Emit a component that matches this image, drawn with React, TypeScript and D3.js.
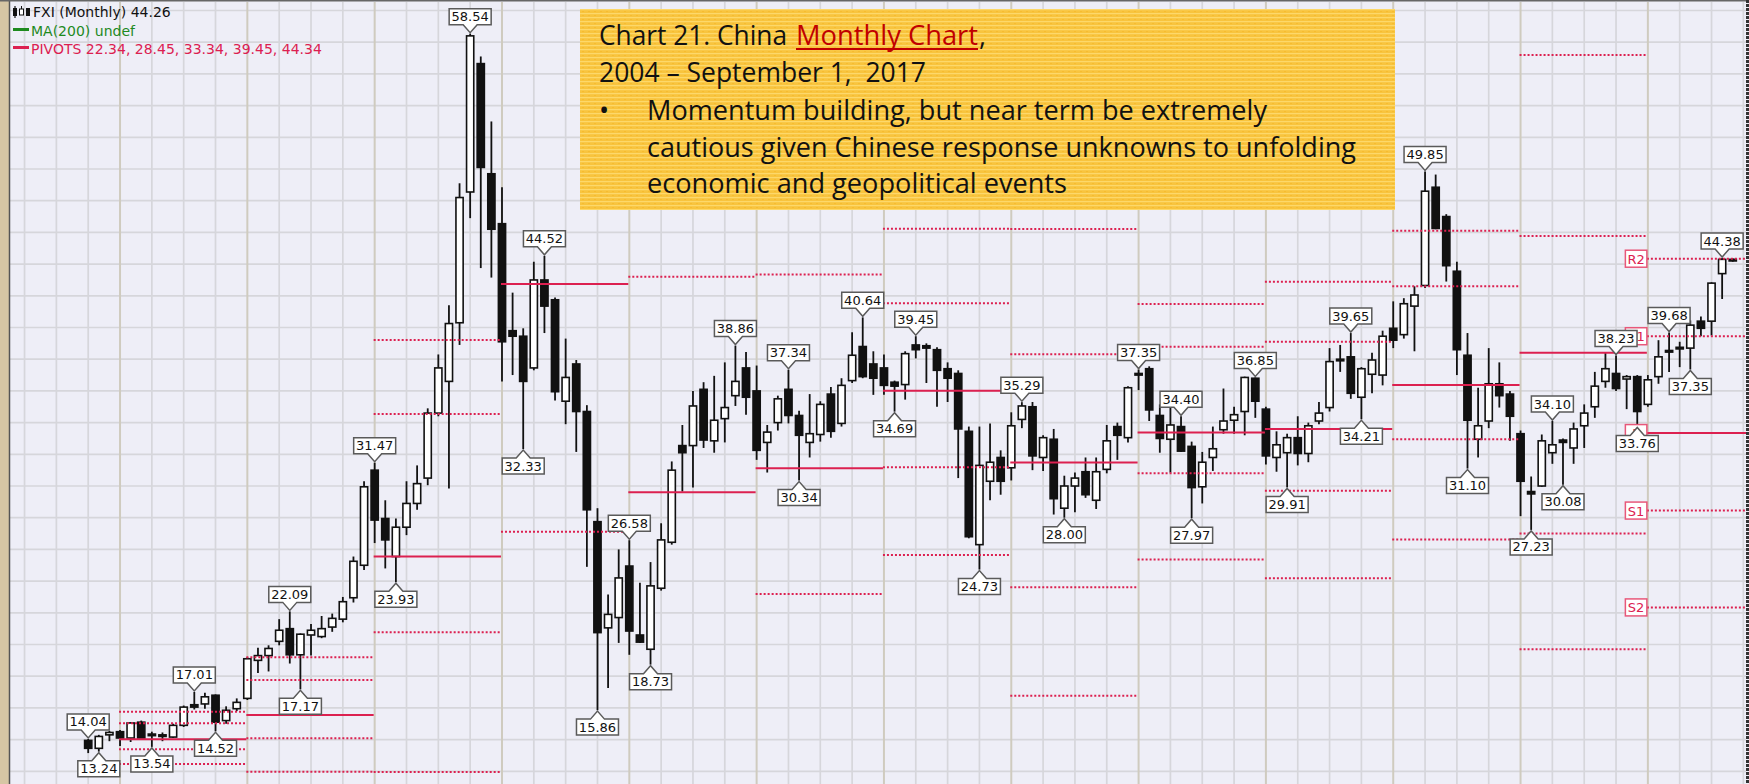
import React from 'react';
import * as d3 from 'd3';

const W = 1749;
const H = 784;

// Monthly FXI candles, Oct 2004 .. Sep 2017
const opens = [13.95,13.45,14.3,14.5,14.1,15.1,14.35,14.3,14.16,14.9,16.2,16.25,16.8,15.2,15.95,16.6,19.0,19.3,20.2,21.0,19.35,20.6,20.5,21.1,21.6,22.95,25.0,31.0,27.95,25.55,27.4,28.9,30.5,34.6,36.6,40.3,48.55,56.65,49.7,46.55,39.8,39.45,37.45,43.0,41.75,35.35,37.7,34.7,27.75,21.05,21.7,24.95,20.6,19.7,23.55,26.45,32.55,32.55,36.1,32.85,34.25,35.7,37.45,36.0,32.75,34.0,36.1,34.45,32.75,33.25,35.8,33.95,36.65,38.8,37.7,37.45,36.55,36.4,38.9,38.85,38.6,37.4,37.1,33.45,26.3,30.3,31.8,31.15,34.2,35.0,31.8,32.95,28.6,30.0,30.9,29.1,31.05,33.75,33.05,37.1,37.4,34.45,32.95,33.75,32.5,29.95,31.8,33.55,34.15,34.7,36.8,34.85,31.8,32.1,33.05,32.05,34.1,34.95,38.0,38.15,35.6,37.05,37.0,39.95,39.55,41.35,42.65,48.85,47.0,43.55,38.25,32.95,34.1,36.45,35.8,33.3,29.65,30.0,32.1,32.9,32.4,33.8,35.0,36.6,37.1,36.75,36.9,35.15,36.9,38.55,38.75,38.7,40.4,40.4,43.4,44.3];
const highs = [14.04,14.3,14.55,14.6,15.1,15.2,14.5,14.45,15.0,16.15,17.01,16.95,16.85,16.1,16.6,19.2,19.8,19.95,21.6,22.09,20.7,21.3,21.8,21.95,23.0,25.55,30.3,31.47,29.1,27.95,30.3,31.3,34.9,38.3,41.4,49.1,58.54,57.1,53.0,48.85,42.2,39.95,44.15,44.52,41.9,39.3,37.95,35.1,28.6,23.15,26.0,26.58,23.9,25.2,27.65,31.55,33.85,36.0,36.55,36.95,37.8,38.86,38.45,37.6,33.85,35.7,37.34,34.75,35.8,35.35,36.25,36.8,39.7,40.64,38.5,38.3,36.65,38.5,39.45,39.0,38.75,37.8,37.3,33.75,33.75,33.95,32.25,34.65,35.29,35.3,33.2,33.6,30.65,30.85,31.8,31.8,33.85,34.0,36.3,37.35,37.55,35.15,35.2,34.4,32.8,32.15,33.75,36.15,35.0,36.9,36.85,35.0,33.45,33.3,34.4,34.0,35.3,38.7,38.9,39.65,37.5,38.4,39.8,41.65,41.85,42.6,49.85,49.65,47.15,44.15,39.65,36.2,38.7,37.8,36.0,33.5,30.6,33.25,34.1,33.0,34.0,35.15,37.2,38.45,38.23,37.0,37.0,37.0,39.2,39.68,39.1,40.45,40.7,42.85,44.38,44.36];
const lows = [13.15,13.24,13.9,13.6,13.85,14.1,13.54,13.9,14.1,14.8,15.9,15.95,14.52,15.0,15.8,16.5,18.2,18.3,19.95,18.8,17.17,19.3,20.4,20.8,21.4,22.65,24.7,26.4,24.8,23.93,26.9,28.5,30.05,34.4,29.85,38.9,46.9,43.75,43.15,36.6,37.0,32.33,37.3,39.65,35.4,33.9,32.15,24.9,15.86,17.25,20.1,19.35,20.1,18.73,23.4,26.3,29.65,29.9,32.4,32.1,32.75,35.05,34.5,31.65,30.85,33.5,33.95,30.34,31.8,32.8,33.05,33.75,36.5,36.8,35.75,35.75,34.69,35.45,38.05,36.5,35.0,35.3,30.5,26.7,24.73,29.1,29.45,30.35,33.65,31.0,30.95,28.2,28.0,28.35,29.25,28.55,30.8,31.65,32.75,36.05,34.1,32.1,30.85,32.15,27.97,28.9,30.95,33.3,33.3,33.2,34.3,31.35,30.9,29.91,31.3,31.5,33.9,34.7,37.2,35.5,34.21,35.85,36.35,38.7,39.3,38.5,42.5,46.2,42.9,37.0,31.1,31.8,33.65,34.95,32.85,28.1,27.23,29.95,31.4,30.08,31.4,32.4,34.3,36.2,36.0,34.85,33.76,35.0,36.45,37.2,37.5,37.35,39.45,39.5,41.8,44.15];
const closes = [13.45,14.2,14.45,14.1,15.05,14.1,14.3,14.2,14.9,16.05,16.05,16.7,15.1,15.85,16.35,19.1,19.3,19.75,20.9,19.35,20.65,20.9,21.0,21.65,22.7,25.25,29.95,27.85,26.6,27.4,28.9,30.15,34.6,37.45,40.25,48.2,58.4,50.1,46.2,39.1,39.45,36.6,43.0,41.35,35.95,36.85,34.7,28.5,20.75,21.9,24.2,20.85,20.15,23.7,26.6,31.0,32.1,35.05,32.9,34.15,34.95,36.6,35.6,32.25,33.4,35.5,34.45,33.2,33.3,35.15,33.45,36.35,38.25,36.9,36.8,36.35,36.3,38.35,38.6,38.7,37.3,36.8,33.6,26.8,31.3,31.5,30.3,33.8,35.05,31.9,33.05,29.2,30.0,30.5,29.45,30.9,32.85,33.2,36.2,37.0,34.8,33.0,33.85,32.2,29.9,31.5,32.35,34.1,34.5,36.85,35.35,31.9,32.6,33.05,32.05,33.8,34.6,37.85,37.9,35.85,37.4,37.95,39.45,39.2,41.5,42.05,48.6,46.25,43.9,38.6,34.15,33.8,36.45,35.7,34.4,30.3,29.5,32.85,32.6,32.75,33.6,34.6,36.3,37.4,36.15,36.9,34.7,36.7,38.15,38.45,38.65,40.15,39.95,42.8,44.3,44.26];

// Annual pivot levels
const pivotYears = [2005,2006,2007,2008,2009,2010,2011,2012,2013,2014,2015,2016,2017];
const pivotS2 = [12.46,11.97,11.95,8.3,-3.3,10.93,25.65,16.77,25.37,24.18,26.63,19.7,22.34];
const pivotS1 = [13.39,14.08,20.77,27.12,10.4,23.19,31.18,23.61,30.8,29.7,32.95,27.0,28.45];
const pivotP = [14.02,15.55,25.55,42.74,29.6,31.12,36.01,31.49,33.37,33.6,36.37,38.4,33.34];
const pivotR1 = [15.03,17.76,34.55,61.8,43.2,43.35,41.53,38.31,38.79,39.1,42.6,45.77,39.45];
const pivotR2 = [15.76,19.19,39.21,77.5,62.6,51.19,46.23,46.21,41.48,42.88,46.1,57.2,44.34];

// Swing labels
const labelIdx = [0,1,6,10,12,19,20,27,29,36,41,43,48,51,53,61,66,67,73,76,78,84,88,92,99,103,104,110,113,119,120,126,130,136,138,139,144,146,149,151,154];
const labelVal = [14.04,13.24,13.54,17.01,14.52,22.09,17.17,31.47,23.93,58.54,32.33,44.52,15.86,26.58,18.73,38.86,37.34,30.34,40.64,34.69,39.45,24.73,35.29,28.00,37.35,34.40,27.97,36.85,29.91,39.65,34.21,49.85,31.10,27.23,34.10,30.08,38.23,33.76,39.68,37.35,44.38];
const labelType = ['H','L','L','H','L','H','L','H','L','H','L','H','L','H','L','H','H','L','H','L','H','L','H','L','H','H','L','H','L','H','L','H','L','L','H','L','H','L','H','L','H'];

const PIV = '#DC2050';
const LABEL_FONT = '"DejaVu Sans", Verdana, sans-serif';
const BOX_FONT = '"Open Sans", sans-serif';

export default function App() {
  const x = d3.scaleLinear().domain([0, 155]).range([88.2, 1732.75]);
  const y = d3.scaleLinear().domain([11.199, 60.663]).range([H, 0]);
  const janIdx = (yr: number) => (yr - 2005) * 12 + 3;
  const gridPrices = d3.range(12, 61, 2);
  const gridIdx = d3.range(-6, 160, 3);

  const levels = [
    { arr: pivotS2, solid: false, tag: 'S2' },
    { arr: pivotS1, solid: false, tag: 'S1' },
    { arr: pivotP, solid: true, tag: 'P' },
    { arr: pivotR1, solid: false, tag: 'R1' },
    { arr: pivotR2, solid: false, tag: 'R2' },
  ];

  const lastYearK = pivotYears.length - 1;
  const tagRight = x(janIdx(pivotYears[lastYearK])) - 1;

  const labelPath = (cx: number, py: number, type: string) => {
    const bw = 42, bh = 16, th = 8, tw = 7;
    if (type === 'H') {
      const apex = py - 1;
      const bot = apex - th;
      const top = bot - bh;
      return { d: `M${cx - bw / 2},${top} H${cx + bw / 2} V${bot} H${cx + tw} L${cx},${apex} L${cx - tw},${bot} H${cx - bw / 2} Z`, ty: top + 12.5 };
    }
    const apex = py + 1;
    const top = apex + th;
    const bot = top + bh;
    return { d: `M${cx - bw / 2},${top} H${cx - tw} L${cx},${apex} L${cx + tw},${top} H${cx + bw / 2} V${bot} H${cx - bw / 2} Z`, ty: top + 12.5 };
  };

  return (
    <svg width={W} height={H} style={{ position: 'absolute', left: 0, top: 0, display: 'block' }}>
      <defs>
        <clipPath id="plot">
          <rect x={10} y={2} width={W - 13} height={H - 2} />
        </clipPath>
        <pattern id="yel" width={6} height={4} patternUnits="userSpaceOnUse">
          <rect width={6} height={4} fill="#F8C43E" />
          <rect y={1} width={6} height={1.2} fill="#FDD86A" />
          <rect x={0} y={3} width={2} height={1} fill="#F6BC30" />
        </pattern>
      </defs>
      <rect x={0} y={0} width={W} height={H} fill="#EEEEF7" />
      <rect x={0} y={0} width={9} height={H} fill="#D6C6A4" />
      <g clipPath="url(#plot)">
        {gridPrices.map((p) => (
          <line key={'h' + p} x1={10} x2={W} y1={y(p)} y2={y(p)} stroke="#D6D6DB" strokeWidth={1.7} />
        ))}
        {gridIdx.map((i) => {
          const yearLine = (i - 3) % 12 === 0;
          return (
            <line key={'v' + i} x1={x(i)} x2={x(i)} y1={0} y2={H}
              stroke={yearLine ? '#CFCBBF' : '#D6D6DB'} strokeWidth={yearLine ? 2 : 1.7} />
          );
        })}
        {opens.map((o, i) => {
          const c = closes[i];
          const cx = x(i);
          const top = y(Math.max(o, c));
          const bot = y(Math.min(o, c));
          const up = c >= o;
          return (
            <g key={'c' + i}>
              <line x1={cx} x2={cx} y1={y(highs[i])} y2={y(lows[i])} stroke="#111" strokeWidth={1.8} />
              <rect x={cx - 3.6} y={top} width={7.2} height={Math.max(bot - top, 1.6)}
                fill={up ? '#FFFFFF' : '#111'} stroke="#111" strokeWidth={1.6} />
            </g>
          );
        })}
        {pivotYears.map((yr, k) => {
          const x1 = x(janIdx(yr)) - 1;
          const x2 = k === lastYearK ? W : x(janIdx(pivotYears[k + 1])) - 1;
          return levels.map((lv) => (
            <line key={'p' + yr + lv.tag} x1={x1} x2={x2}
              y1={y(lv.arr[k])} y2={y(lv.arr[k])} stroke={PIV}
              strokeWidth={2} strokeDasharray={lv.solid ? undefined : '2,2'} />
          ));
        })}
        {levels.map((lv) => {
          const py = y(lv.arr[lastYearK]);
          return (
            <g key={'tag' + lv.tag}>
              <rect x={tagRight - 21.5} y={py - 8.5} width={21.5} height={17} fill="#FFFFFF" stroke="#E8587A" strokeWidth={1.5} />
              <text x={tagRight - 10.75} y={py + 5} textAnchor="middle" fontFamily={LABEL_FONT} fontSize={13} fill={PIV}>{lv.tag}</text>
            </g>
          );
        })}
        {labelIdx.map((i, k) => {
          const cx = x(i);
          const lp = labelPath(cx, y(labelVal[k]), labelType[k]);
          return (
            <g key={'l' + k}>
              <path d={lp.d} fill="#FFFFFF" stroke="#5A5A5A" strokeWidth={1.5} />
              <text x={cx} y={lp.ty} textAnchor="middle" fontFamily={LABEL_FONT} fontSize={13} fill="#111">
                {labelVal[k].toFixed(2)}
              </text>
            </g>
          );
        })}
      </g>
      <line x1={9.5} x2={9.5} y1={0} y2={H} stroke="#555" strokeWidth={1.5} />
      <line x1={0} x2={W} y1={0.75} y2={0.75} stroke="#666" strokeWidth={1.5} />
      <line x1={1747.5} x2={1747.5} y1={0} y2={H} stroke="#333" strokeWidth={3} strokeDasharray="3,1" />

      {/* legend */}
      <g>
        <rect x={13} y={8} width={4} height={8} fill="#111" />
        <line x1={15} x2={15} y1={6} y2={18} stroke="#111" strokeWidth={1.2} />
        <rect x={19.5} y={9} width={4} height={6} fill="#fff" stroke="#111" strokeWidth={1} />
        <line x1={21.5} x2={21.5} y1={6} y2={9} stroke="#111" strokeWidth={1} />
        <rect x={26} y={8} width={4} height={8} fill="#111" />
        <text x={33} y={17} fontFamily={LABEL_FONT} fontSize={14} fill="#111">FXI (Monthly) 44.26</text>
        <line x1={13} x2={29} y1={29.5} y2={29.5} stroke="#1E8A1E" strokeWidth={3} />
        <text x={31} y={35.5} fontFamily={LABEL_FONT} fontSize={14} fill="#1E8A1E">MA(200) undef</text>
        <line x1={13} x2={29} y1={47.5} y2={47.5} stroke={PIV} strokeWidth={3} />
        <text x={31} y={54} fontFamily={LABEL_FONT} fontSize={14} fill={PIV}>PIVOTS 22.34, 28.45, 33.34, 39.45, 44.34</text>
      </g>

      {/* annotation box */}
      <g>
        <rect x={580} y={9} width={815} height={201} fill="url(#yel)" />
        <text x={599} y={45} fontFamily={BOX_FONT} fontSize={27} fill="#111" textLength={188} lengthAdjust="spacingAndGlyphs">Chart 21. China</text>
        <text x={796} y={45} fontFamily={BOX_FONT} fontSize={27} fill="#C00000" textLength={182} lengthAdjust="spacingAndGlyphs">Monthly Chart</text>
        <line x1={796} x2={978} y1={49} y2={49} stroke="#C00000" strokeWidth={2} />
        <text x={979} y={45} fontFamily={BOX_FONT} fontSize={27} fill="#111">,</text>
        <text x={599} y={82} fontFamily={BOX_FONT} fontSize={27} fill="#111" textLength={327} lengthAdjust="spacingAndGlyphs" style={{ whiteSpace: 'pre' }}>{'2004 – September 1,  2017'}</text>
        <text x={599} y={120} fontFamily={BOX_FONT} fontSize={27} fill="#111">•</text>
        <text x={647} y={120} fontFamily={BOX_FONT} fontSize={27} fill="#111" textLength={620} lengthAdjust="spacingAndGlyphs">Momentum building, but near term be extremely</text>
        <text x={647} y={157} fontFamily={BOX_FONT} fontSize={27} fill="#111" textLength={709} lengthAdjust="spacingAndGlyphs">cautious given Chinese response unknowns to unfolding</text>
        <text x={647} y={193} fontFamily={BOX_FONT} fontSize={27} fill="#111" textLength={420} lengthAdjust="spacingAndGlyphs">economic and geopolitical events</text>
      </g>
    </svg>
  );
}
